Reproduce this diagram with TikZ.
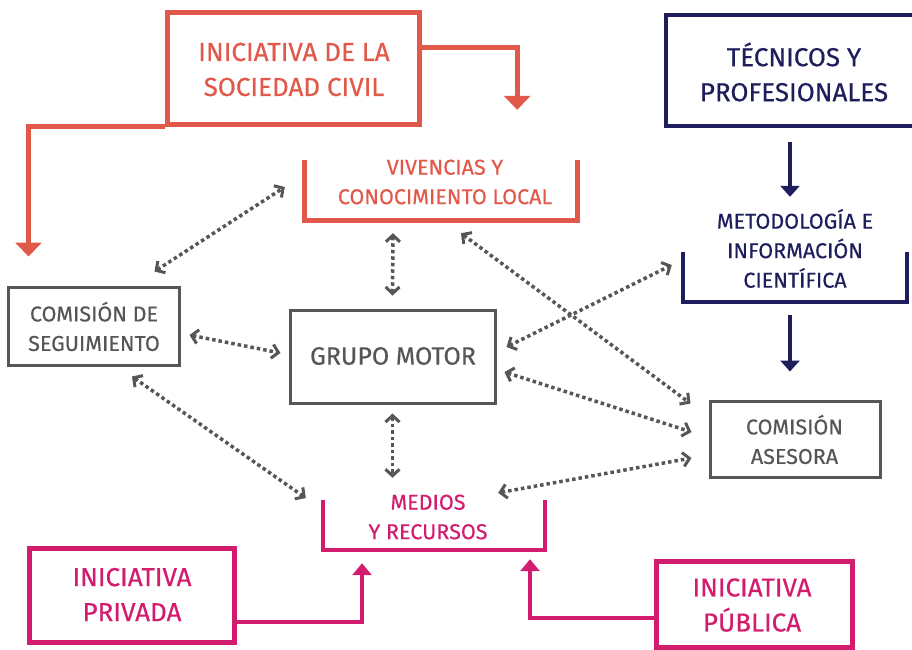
\documentclass[tikz,border=0pt]{standalone}
\usepackage{fontspec}
\setmainfont{Fira Sans}[UprightFeatures={FakeBold=0.45}]
\usetikzlibrary{arrows.meta}
\definecolor{cred}{HTML}{E0594A}
\definecolor{cnavy}{HTML}{1E1E5C}
\definecolor{cmag}{HTML}{D21C6E}
\definecolor{cgray}{HTML}{565656}
\newcommand\bigtxt{\fontsize{26}{35}\selectfont}
\newcommand\midtxt{\fontsize{21.5}{29.5}\selectfont}
\newcommand\gmtxt{\fontsize{25}{30}\selectfont}
\begin{document}
\begin{tikzpicture}[x=1pt,y=-1pt,
  frame/.style={draw=#1, line width=5pt, inner sep=0pt},
  gbox/.style={draw=cgray, line width=3pt, inner sep=0pt},
  brk/.style={inner sep=0pt},
  lbl/.style={align=center, inner sep=0pt},
  dotarrow/.style={draw=cgray, line width=3.5pt, dash pattern=on 3.5pt off 3pt,
    {Straight Barb[length=6.5pt,width=14pt,line width=3pt]}-{Straight Barb[length=6.5pt,width=14pt,line width=3pt]}},
  redarrow/.style={draw=cred, line width=5pt, -{Triangle[length=14pt,width=26pt]}},
  navyarrow/.style={draw=cnavy, line width=3.5pt, -{Triangle[length=11pt,width=19pt]}},
  magarrow/.style={draw=cmag, line width=4pt, -{Triangle[length=12pt,width=19pt]}}]
\useasboundingbox (0,0) rectangle (912,649);

% boxes
\node[frame=cred, minimum width=252.5pt, minimum height=112pt] (civil) at (293.25,68) {};
\node[lbl, text=cred, font=\bigtxt] (civilt) at (294,69.5) {INICIATIVA DE LA\\SOCIEDAD CIVIL};
\node[frame=cnavy, line width=4.5pt, minimum width=250pt, minimum height=111pt] (tec) at (791,70.5) {};
\node[lbl, text=cnavy, font=\bigtxt] (tect) at (794,72) {TÉCNICOS Y\\PROFESIONALES};
\node[frame=cmag, minimum width=205pt, minimum height=94pt] (priv) at (131.5,595) {};
\node[lbl, text=cmag, font=\bigtxt] (privt) at (132,594.5) {INICIATIVA\\PRIVADA};
\node[frame=cmag, minimum width=196pt, minimum height=86pt] (pub) at (754,604) {};
\node[lbl, text=cmag, font=\bigtxt] (pubt) at (752,605) {INICIATIVA\\PÚBLICA};

\node[gbox, minimum width=171pt, minimum height=78pt] (cseg) at (93.5,326) {};
\node[lbl, text=cgray, font=\midtxt] (csegt) at (94,326.5) {COMISIÓN DE\\SEGUIMIENTO};
\node[gbox, minimum width=205pt, minimum height=93pt] (gm) at (392.5,356.5) {};
\node[lbl, text=cgray, font=\gmtxt] (gmt) at (393,356) {GRUPO MOTOR};
\node[gbox, minimum width=170pt, minimum height=76pt] (ca) at (795,439) {};
\node[lbl, text=cgray, font=\midtxt] (cat) at (794.5,439.5) {COMISIÓN\\ASESORA};

% brackets
\node[brk, minimum width=272pt, minimum height=60pt] (viv) at (441,190) {};
\draw[cred, line width=5pt] (viv.north west) |- (viv.south east) -- (viv.north east);
\node[lbl, text=cred, font=\midtxt] (vivt) at (445,182) {VIVENCIAS Y\\CONOCIMIENTO LOCAL};
\node[brk, minimum width=224pt, minimum height=50pt] (met) at (795,277) {};
\draw[cnavy, line width=4.5pt] (met.north west) |- (met.south east) -- (met.north east);
\node[lbl, text=cnavy, font=\midtxt] (mett) at (795,248.5) {METODOLOGÍA E\\INFORMACIÓN\\CIENTÍFICA};
\node[brk, minimum width=222pt, minimum height=50pt] (med) at (434,525) {};
\draw[cmag, line width=4.5pt] (med.north west) |- (med.south east) -- (med.north east);
\node[lbl, text=cmag, font=\midtxt] (medt) at (428,517) {MEDIOS\\Y RECURSOS};

% solid arrows
\draw[redarrow] ([shift={(0,38)}]civil.north east) -| ([shift={(-60,-50)}]viv.north east);
\draw[redarrow] (civil.south west) -| ([shift={(22,-29)}]cseg.north west);
\draw[navyarrow] ([shift={(-1,14)}]tec.south) -- ([shift={(-5,-55)}]met.north);
\draw[navyarrow] ([shift={(-5,13)}]met.south) -- ([shift={(-5,-28)}]ca.north);
\draw[magarrow] ([shift={(0,27)}]priv.east) -| ([shift={(-72,13)}]med.south);
\draw[magarrow] ([shift={(0,14)}]pub.west) -| ([shift={(96,9)}]med.south);

% dotted connectors
\draw[dotarrow] ([shift={(-26,-14)}]cseg.north east) -- ([shift={(-20,-3)}]viv.west);
\draw[dotarrow] ([shift={(-48,13)}]viv.south) -- ([shift={(0,-13)}]gm.north);
\draw[dotarrow] ([shift={(20,13)}]viv.south) -- ([shift={(-18,4)}]ca.north west);
\draw[dotarrow] ([shift={(10,-9.5)}]gm.east) -- ([shift={(-11,-12)}]met.west);
\draw[dotarrow] ([shift={(8,15.5)}]gm.east) -- ([shift={(-17,-7)}]ca.west);
\draw[dotarrow] ([shift={(9,9)}]cseg.east) -- ([shift={(-8,-3.5)}]gm.west);
\draw[dotarrow] ([shift={(38.5,10)}]cseg.south) -- ([shift={(-17,-27)}]med.west);
\draw[dotarrow] ([shift={(0,9)}]gm.south) -- ([shift={(-41.5,-22)}]med.north);
\draw[dotarrow] ([shift={(-47,-7)}]med.north east) -- ([shift={(-17,19)}]ca.west);
\end{tikzpicture}
\end{document}
